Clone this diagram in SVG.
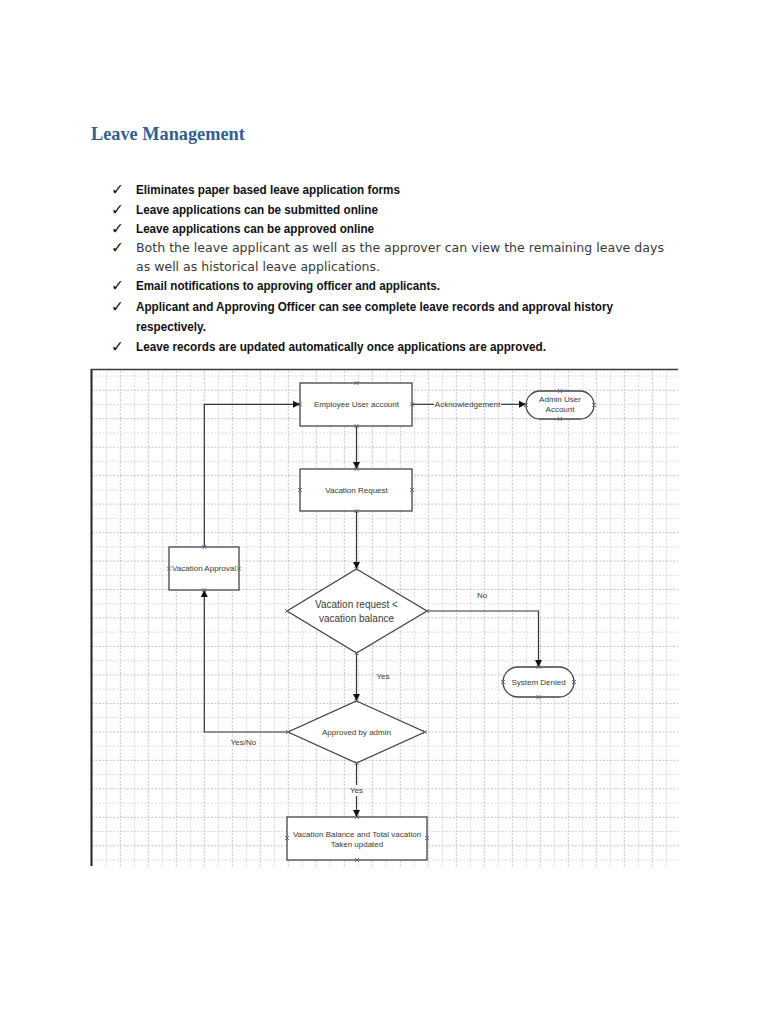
<svg xmlns="http://www.w3.org/2000/svg" width="768" height="1024" viewBox="0 0 768 1024">
<style>
.title{font-family:"Liberation Serif",serif;font-weight:bold;font-size:18.3px;fill:#365f91}
.chk{font-family:"DejaVu Sans",sans-serif;font-size:15.5px;fill:#111}
.b{font-family:"Liberation Sans",Arial,sans-serif;font-weight:bold;font-size:12px;fill:#111}
.n{font-family:"DejaVu Sans",sans-serif;font-size:11.5px;fill:#3a3a3a}
.gl{fill:none;stroke:#d9d9d9;stroke-width:1;stroke-dasharray:2 1.5}
.gd{fill:none;stroke:#c4c4c4;stroke-width:1;stroke-dasharray:2 1.5}
.shape{fill:#fff;stroke:#444;stroke-width:1.3}
.t{font-family:"Liberation Sans",Arial,sans-serif;font-size:8px;fill:#3a3a3a;text-anchor:middle}
.tl{font-family:"Liberation Sans",Arial,sans-serif;font-size:10px;fill:#3a3a3a;text-anchor:middle}
.conn{fill:none;stroke:#333;stroke-width:1.2}
.cx{fill:none;stroke:#5a5aa8;stroke-width:0.9}
</style>
<defs>
<marker id="arr" markerWidth="8" markerHeight="7" refX="7" refY="3.5" orient="auto" markerUnits="userSpaceOnUse">
<path d="M0,0 L7,3.5 L0,7 z" fill="#111"/>
</marker>
<path id="x" d="M-2,-2L2,2M-2,2L2,-2"/>
</defs>
<rect x="0" y="0" width="768" height="1024" fill="#fff"/>

<text class="title" x="91" y="140">Leave Management</text>

<g id="bullets">
<text class="chk" x="111" y="195">✓</text>
<text class="b" x="136" y="194" textLength="264" lengthAdjust="spacingAndGlyphs">Eliminates paper based leave application forms</text>
<text class="chk" x="111" y="215">✓</text>
<text class="b" x="136" y="214" textLength="242" lengthAdjust="spacingAndGlyphs">Leave applications can be submitted online</text>
<text class="chk" x="111" y="234">✓</text>
<text class="b" x="136" y="233" textLength="238" lengthAdjust="spacingAndGlyphs">Leave applications can be approved online</text>
<text class="chk" x="111" y="253">✓</text>
<text class="n" x="136" y="252" textLength="528" lengthAdjust="spacingAndGlyphs">Both the leave applicant as well as the approver can view the remaining leave days</text>
<text class="n" x="136" y="271" textLength="244" lengthAdjust="spacingAndGlyphs">as well as historical leave applications.</text>
<text class="chk" x="111" y="291">✓</text>
<text class="b" x="136" y="290" textLength="304" lengthAdjust="spacingAndGlyphs">Email notifications to approving officer and applicants.</text>
<text class="chk" x="111" y="312">✓</text>
<text class="b" x="136" y="311" textLength="477" lengthAdjust="spacingAndGlyphs">Applicant and Approving Officer can see complete leave records and approval history</text>
<text class="b" x="136" y="331" textLength="70" lengthAdjust="spacingAndGlyphs">respectively.</text>
<text class="chk" x="111" y="352">✓</text>
<text class="b" x="136" y="351" textLength="410" lengthAdjust="spacingAndGlyphs">Leave records are updated automatically once applications are approved.</text>
</g>

<g id="grid">
<path class="gl" d="M106.3 371V867M134.3 371V867M162.3 371V867M190.3 371V867M218.3 371V867M246.3 371V867M274.3 371V867M302.3 371V867M330.3 371V867M358.3 371V867M386.3 371V867M414.3 371V867M442.3 371V867M470.3 371V867M498.3 371V867M526.3 371V867M554.3 371V867M582.3 371V867M610.3 371V867M638.3 371V867M666.3 371V867"/>
<path class="gd" d="M120.3 371V867M148.3 371V867M176.3 371V867M204.3 371V867M232.3 371V867M260.3 371V867M288.3 371V867M316.3 371V867M344.3 371V867M372.3 371V867M400.3 371V867M428.3 371V867M456.3 371V867M484.3 371V867M512.3 371V867M540.3 371V867M568.3 371V867M596.3 371V867M624.3 371V867M652.3 371V867"/>
<path class="gl" d="M92 376H678M92 404.5H678M92 432.9H678M92 461.4H678M92 489.9H678M92 518.4H678M92 546.8H678M92 575.3H678M92 603.8H678M92 632.2H678M92 660.7H678M92 689.2H678M92 717.6H678M92 746.1H678M92 774.6H678M92 803.1H678M92 831.5H678M92 860H678"/>
<path class="gd" d="M92 390.2H678M92 418.7H678M92 447.2H678M92 475.6H678M92 504.1H678M92 532.6H678M92 561.1H678M92 589.5H678M92 618H678M92 646.5H678M92 674.9H678M92 703.4H678M92 731.9H678M92 760.3H678M92 788.8H678M92 817.3H678M92 845.8H678"/>
<path d="M91.5 369V866" stroke="#222" stroke-width="2" fill="none"/>
<path d="M91 369.5H678" stroke="#3a3a3a" stroke-width="1.4" fill="none"/>
</g>

<g id="connectors">
<path class="conn" d="M356.5 426V469" marker-end="url(#arr)"/>
<path class="conn" d="M412 404.3H434"/>
<path class="conn" d="M501 404.3H526" marker-end="url(#arr)"/>
<text class="t" x="467.5" y="407">Acknowledgement</text>
<path class="conn" d="M204.3 547V404.3H300" marker-end="url(#arr)"/>
<path class="conn" d="M356.5 511V569" marker-end="url(#arr)"/>
<path class="conn" d="M427 611H538.5V667" marker-end="url(#arr)"/>
<text class="t" x="482" y="598">No</text>
<path class="conn" d="M356.5 653V701" marker-end="url(#arr)"/>
<text class="t" x="383" y="678.5">Yes</text>
<path class="conn" d="M288 732H204.3V590" marker-end="url(#arr)"/>
<text class="t" x="243.5" y="744.5">Yes/No</text>
<path class="conn" d="M356.5 763V785"/>
<path class="conn" d="M356.5 796V817" marker-end="url(#arr)"/>
<text class="t" x="356.5" y="793">Yes</text>
</g>

<g id="employee">
<rect class="shape" x="300" y="383" width="112" height="43"/>
<text class="t" x="356.5" y="407">Employee User account</text>
</g>
<g id="admin">
<rect class="shape" x="526" y="391" width="68" height="28" rx="14" ry="14"/>
<text class="t" x="560" y="402">Admin User</text>
<text class="t" x="560" y="412">Account</text>
</g>
<g id="vacation-request">
<rect class="shape" x="300" y="469" width="112" height="42"/>
<text class="t" x="356.5" y="493">Vacation Request</text>
</g>
<g id="vacation-approval">
<rect class="shape" x="169" y="547" width="70" height="43"/>
<text class="t" x="204" y="571">Vacation Approval</text>
</g>
<g id="decision-balance">
<polygon class="shape" points="356.5,569 427,611 356.5,653 287,611"/>
<text class="tl" x="356.5" y="607.5">Vacation request &lt;</text>
<text class="tl" x="356.5" y="621.5">vacation balance</text>
</g>
<g id="system-denied">
<rect class="shape" x="503" y="667" width="71" height="30" rx="15" ry="15"/>
<text class="t" x="538.5" y="685">System Denied</text>
</g>
<g id="decision-admin">
<polygon class="shape" points="356.5,701 425,732 356.5,763 288,732"/>
<text class="t" x="356.5" y="735">Approved by admin</text>
</g>
<g id="final">
<rect class="shape" x="287" y="817" width="140" height="43"/>
<text class="t" x="357" y="837">Vacation Balance and Total vacation</text>
<text class="t" x="357" y="847">Taken updated</text>
</g>

<g id="connection-points">
<use href="#x" class="cx" x="356.5" y="383"/><use href="#x" class="cx" x="356.5" y="426"/><use href="#x" class="cx" x="300" y="404.3"/><use href="#x" class="cx" x="412" y="404.3"/>
<use href="#x" class="cx" x="560" y="391"/><use href="#x" class="cx" x="560" y="419"/><use href="#x" class="cx" x="526" y="405"/><use href="#x" class="cx" x="594" y="405"/>
<use href="#x" class="cx" x="356.5" y="469"/><use href="#x" class="cx" x="356.5" y="511"/><use href="#x" class="cx" x="300" y="490"/><use href="#x" class="cx" x="412" y="490"/>
<use href="#x" class="cx" x="204.3" y="547"/><use href="#x" class="cx" x="204.3" y="590"/><use href="#x" class="cx" x="169" y="568.5"/><use href="#x" class="cx" x="239" y="568.5"/>
<use href="#x" class="cx" x="356.5" y="569"/><use href="#x" class="cx" x="356.5" y="653"/><use href="#x" class="cx" x="287" y="611"/><use href="#x" class="cx" x="427" y="611"/>
<use href="#x" class="cx" x="538.5" y="667"/><use href="#x" class="cx" x="538.5" y="697"/><use href="#x" class="cx" x="503" y="682"/><use href="#x" class="cx" x="574" y="682"/>
<use href="#x" class="cx" x="356.5" y="701"/><use href="#x" class="cx" x="356.5" y="763"/><use href="#x" class="cx" x="288" y="732"/><use href="#x" class="cx" x="425" y="732"/>
<use href="#x" class="cx" x="357" y="817"/><use href="#x" class="cx" x="357" y="860"/><use href="#x" class="cx" x="287" y="838"/><use href="#x" class="cx" x="427" y="838"/>
</g>
</svg>
